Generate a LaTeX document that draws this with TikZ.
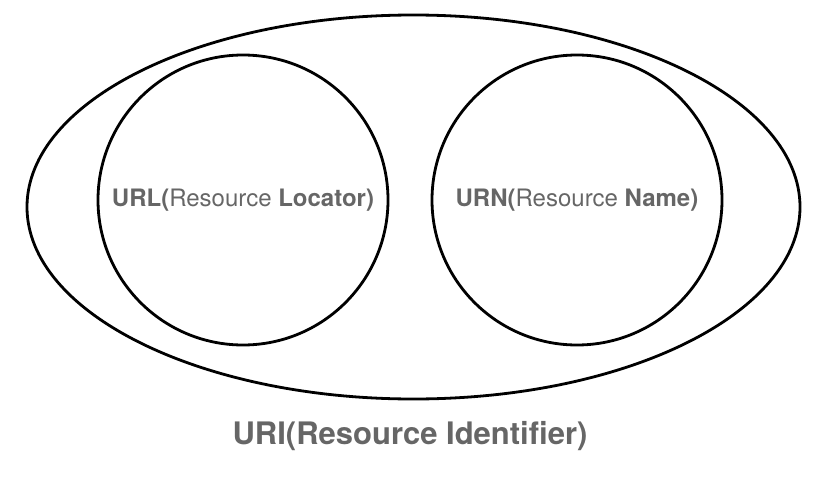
\documentclass[tikz,border=0pt]{standalone}
\usepackage{fontspec}
\setmainfont{TeX Gyre Heros}
\usetikzlibrary{shapes.geometric}
\definecolor{labelgray}{HTML}{666666}
\begin{document}
\begin{tikzpicture}[
      x=1pt, y=-1pt,
      outerset/.style={ellipse, draw, line width=2.8pt, minimum width=773pt, minimum height=384pt, inner sep=0pt},
      innerset/.style={circle, draw, line width=2.8pt, minimum size=290pt, inner sep=0pt, text=labelgray, font=\fontsize{24}{28}\selectfont},
      setname/.style={text=labelgray, font=\bfseries\fontsize{31}{36}\selectfont}
    ]
    \useasboundingbox (0,0) rectangle (826,476);
    % Conjunto maior
    \node[outerset] (uri) at (413.5,207) {};
    % Subconjuntos
    \node[innerset] (url) at (243,200) {\textbf{URL(}Resource \textbf{Locator)}};
    \node[innerset] (urn) at (577,200) {\textbf{URN(}Resource \textbf{Name)}};
    \node[setname] (urilabel) at (410,436) {URI(Resource Identifier)};
  \end{tikzpicture}
\end{document}
